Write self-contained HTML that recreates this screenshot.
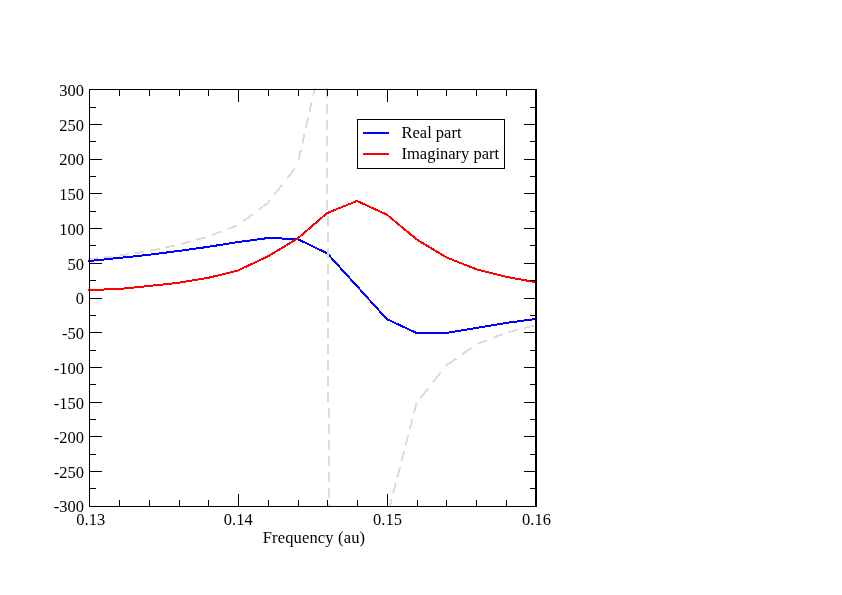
<!DOCTYPE html>
<html><head><meta charset="utf-8"><style>
html,body{margin:0;padding:0;background:#fff;width:842px;height:595px;overflow:hidden}
#w{width:842px;height:595px;will-change:transform}
svg{display:block}
text{font-family:"Liberation Serif",serif;fill:#000}
</style></head><body><div id="w">
<svg width="842" height="595" viewBox="0 0 842 595">
<rect x="0" y="0" width="842" height="595" fill="#fff"/>
<defs><clipPath id="c"><rect x="88" y="88" width="449" height="419"/></clipPath></defs>

<g clip-path="url(#c)" fill="none" stroke-width="2" shape-rendering="crispEdges" stroke-linejoin="round">
<g stroke="#dcdcdc"><polyline points="88.00,259.56 97.69,258.36"/><polyline points="103.50,257.64 113.19,256.45"/><polyline points="119.00,255.71 128.69,254.22"/><polyline points="134.50,253.33 144.19,251.84"/><polyline points="150.00,250.83 159.69,248.76"/><polyline points="165.50,247.51 175.19,245.44"/><polyline points="181.00,244.01 190.69,241.37"/><polyline points="196.50,239.79 206.19,237.15"/><polyline points="212.00,235.11 221.69,231.41"/><polyline points="227.50,229.19 237.19,225.49"/><polyline points="243.00,221.36 252.69,214.21"/><polyline points="258.50,209.92 267.50,203.27 269.64,200.56"/><polyline points="274.39,194.56 282.29,184.56"/><polyline points="287.03,178.56 294.94,168.56"/><polyline points="298.68,159.61 300.94,149.61"/><polyline points="302.30,143.61 304.57,133.61"/><polyline points="305.93,127.61 308.19,117.61"/><polyline points="309.55,111.61 311.82,101.61"/><polyline points="313.18,95.61 314.91,88.00"/></g>
<polyline points="88.00,261.15 118.33,257.97 148.17,254.91 178.00,251.02 207.83,246.92 237.67,242.12 267.50,238.09 297.33,238.93 327.17,253.31 357.00,286.19 386.83,319.13 416.67,333.03 446.50,332.89 476.33,327.88 506.17,322.95 536.00,318.92" stroke="#0000ff"/>
<polyline points="88.00,290.02 118.33,289.03 148.17,286.05 178.00,282.92 207.83,277.91 237.67,270.62 267.50,256.58 297.33,238.79 327.17,213.00 357.00,200.98 386.83,214.60 416.67,239.41 446.50,257.41 476.33,269.30 506.17,276.87 536.00,282.22" stroke="#ff0000"/>
<g stroke="#dcdcdc"><polyline points="326.87,88.00 326.92,98.00"/><polyline points="326.95,104.00 327.00,114.00"/><polyline points="327.03,120.00 327.09,130.00"/><polyline points="327.12,136.00 327.17,146.00"/><polyline points="327.20,152.00 327.25,162.00"/><polyline points="327.28,168.00 327.33,178.00"/><polyline points="327.36,184.00 327.42,194.00"/><polyline points="327.45,200.00 327.50,210.00"/><polyline points="327.53,216.00 327.58,226.00"/><polyline points="327.61,232.00 327.66,242.00"/><polyline points="327.69,248.00 327.75,258.00"/><polyline points="327.78,264.00 327.83,274.00"/><polyline points="327.86,280.00 327.91,290.00"/><polyline points="327.94,296.00 327.99,306.00"/><polyline points="328.02,312.00 328.08,322.00"/><polyline points="328.11,328.00 328.16,338.00"/><polyline points="328.19,344.00 328.24,354.00"/><polyline points="328.27,360.00 328.32,370.00"/><polyline points="328.35,376.00 328.41,386.00"/><polyline points="328.44,392.00 328.49,402.00"/><polyline points="328.52,408.00 328.57,418.00"/><polyline points="328.60,424.00 328.65,434.00"/><polyline points="328.68,440.00 328.74,450.00"/><polyline points="328.77,456.00 328.82,466.00"/><polyline points="328.85,472.00 328.90,482.00"/><polyline points="328.93,488.00 328.98,498.00"/><polyline points="329.01,504.00 329.03,507.00"/><polyline points="389.59,507.00 391.67,499.00"/><polyline points="393.23,493.00 395.83,483.00"/><polyline points="397.39,477.00 399.99,467.00"/><polyline points="401.55,461.00 404.14,451.00"/><polyline points="405.70,445.00 408.30,435.00"/><polyline points="409.86,429.00 412.46,419.00"/><polyline points="414.02,413.00 416.62,403.00"/><polyline points="420.17,398.40 428.12,388.40"/><polyline points="432.89,382.40 440.84,372.40"/><polyline points="445.61,366.40 446.50,365.28 456.07,358.59"/><polyline points="461.88,354.53 471.57,347.76"/><polyline points="477.38,344.02 487.07,340.25"/><polyline points="492.88,337.99 502.57,334.22"/><polyline points="508.38,332.24 518.07,329.69"/><polyline points="523.88,328.16 533.57,325.61"/></g>
</g>
<g fill="#000" shape-rendering="crispEdges"><rect x="89" y="89" width="448" height="1"/>
<rect x="89" y="506" width="448" height="1"/>
<rect x="89" y="89" width="1" height="418"/>
<rect x="535" y="89" width="2" height="418"/>
<rect x="89" y="89" width="1" height="13"/>
<rect x="89" y="494" width="1" height="13"/>
<rect x="119" y="89" width="1" height="7"/>
<rect x="119" y="500" width="1" height="7"/>
<rect x="149" y="89" width="1" height="7"/>
<rect x="149" y="500" width="1" height="7"/>
<rect x="179" y="89" width="1" height="7"/>
<rect x="179" y="500" width="1" height="7"/>
<rect x="208" y="89" width="1" height="7"/>
<rect x="208" y="500" width="1" height="7"/>
<rect x="238" y="89" width="1" height="13"/>
<rect x="238" y="494" width="1" height="13"/>
<rect x="268" y="89" width="1" height="7"/>
<rect x="268" y="500" width="1" height="7"/>
<rect x="298" y="89" width="1" height="7"/>
<rect x="298" y="500" width="1" height="7"/>
<rect x="327" y="89" width="1" height="7"/>
<rect x="327" y="500" width="1" height="7"/>
<rect x="357" y="89" width="1" height="7"/>
<rect x="357" y="500" width="1" height="7"/>
<rect x="387" y="89" width="1" height="13"/>
<rect x="387" y="494" width="1" height="13"/>
<rect x="417" y="89" width="1" height="7"/>
<rect x="417" y="500" width="1" height="7"/>
<rect x="446" y="89" width="1" height="7"/>
<rect x="446" y="500" width="1" height="7"/>
<rect x="476" y="89" width="1" height="7"/>
<rect x="476" y="500" width="1" height="7"/>
<rect x="506" y="89" width="1" height="7"/>
<rect x="506" y="500" width="1" height="7"/>
<rect x="536" y="89" width="1" height="13"/>
<rect x="536" y="494" width="1" height="13"/>
<rect x="89" y="89" width="13" height="1"/>
<rect x="524" y="89" width="13" height="1"/>
<rect x="89" y="107" width="7" height="1"/>
<rect x="530" y="107" width="7" height="1"/>
<rect x="89" y="124" width="13" height="1"/>
<rect x="524" y="124" width="13" height="1"/>
<rect x="89" y="141" width="7" height="1"/>
<rect x="530" y="141" width="7" height="1"/>
<rect x="89" y="159" width="13" height="1"/>
<rect x="524" y="159" width="13" height="1"/>
<rect x="89" y="176" width="7" height="1"/>
<rect x="530" y="176" width="7" height="1"/>
<rect x="89" y="193" width="13" height="1"/>
<rect x="524" y="193" width="13" height="1"/>
<rect x="89" y="211" width="7" height="1"/>
<rect x="530" y="211" width="7" height="1"/>
<rect x="89" y="228" width="13" height="1"/>
<rect x="524" y="228" width="13" height="1"/>
<rect x="89" y="245" width="7" height="1"/>
<rect x="530" y="245" width="7" height="1"/>
<rect x="89" y="263" width="13" height="1"/>
<rect x="524" y="263" width="13" height="1"/>
<rect x="89" y="280" width="7" height="1"/>
<rect x="530" y="280" width="7" height="1"/>
<rect x="89" y="298" width="13" height="1"/>
<rect x="524" y="298" width="13" height="1"/>
<rect x="89" y="315" width="7" height="1"/>
<rect x="530" y="315" width="7" height="1"/>
<rect x="89" y="332" width="13" height="1"/>
<rect x="524" y="332" width="13" height="1"/>
<rect x="89" y="350" width="7" height="1"/>
<rect x="530" y="350" width="7" height="1"/>
<rect x="89" y="367" width="13" height="1"/>
<rect x="524" y="367" width="13" height="1"/>
<rect x="89" y="384" width="7" height="1"/>
<rect x="530" y="384" width="7" height="1"/>
<rect x="89" y="402" width="13" height="1"/>
<rect x="524" y="402" width="13" height="1"/>
<rect x="89" y="419" width="7" height="1"/>
<rect x="530" y="419" width="7" height="1"/>
<rect x="89" y="436" width="13" height="1"/>
<rect x="524" y="436" width="13" height="1"/>
<rect x="89" y="454" width="7" height="1"/>
<rect x="530" y="454" width="7" height="1"/>
<rect x="89" y="471" width="13" height="1"/>
<rect x="524" y="471" width="13" height="1"/>
<rect x="89" y="488" width="7" height="1"/>
<rect x="530" y="488" width="7" height="1"/>
<rect x="89" y="506" width="13" height="1"/>
<rect x="524" y="506" width="13" height="1"/></g>
<g font-size="16.5"><text x="84" y="95.90" text-anchor="end">300</text>
<text x="84" y="130.65" text-anchor="end">250</text>
<text x="84" y="165.40" text-anchor="end">200</text>
<text x="84" y="200.15" text-anchor="end">150</text>
<text x="84" y="234.90" text-anchor="end">100</text>
<text x="84" y="269.65" text-anchor="end">50</text>
<text x="84" y="304.40" text-anchor="end">0</text>
<text x="84" y="339.15" text-anchor="end">-50</text>
<text x="84" y="373.90" text-anchor="end">-100</text>
<text x="84" y="408.65" text-anchor="end">-150</text>
<text x="84" y="443.40" text-anchor="end">-200</text>
<text x="84" y="478.15" text-anchor="end">-250</text>
<text x="84" y="511.90" text-anchor="end">-300</text>
<text x="90.80" y="525.3" text-anchor="middle">0.13</text>
<text x="238.30" y="525.3" text-anchor="middle">0.14</text>
<text x="387.50" y="525.3" text-anchor="middle">0.15</text>
<text x="536.50" y="525.3" text-anchor="middle">0.16</text>
<text x="313.85" y="543.4" text-anchor="middle" textLength="102.4" lengthAdjust="spacing">Frequency (au)</text></g>
<rect x="357.5" y="119.5" width="147" height="49" fill="#fff" stroke="#000" stroke-width="1" shape-rendering="crispEdges"/>
<line x1="363" y1="133" x2="389" y2="133" stroke="#0000ff" stroke-width="2" shape-rendering="crispEdges"/>
<line x1="363" y1="154" x2="389" y2="154" stroke="#ff0000" stroke-width="2" shape-rendering="crispEdges"/>
<text x="401.5" y="138" font-size="16.5">Real part</text>
<text x="401.5" y="159" font-size="16.5">Imaginary part</text>

</svg></div></body></html>
